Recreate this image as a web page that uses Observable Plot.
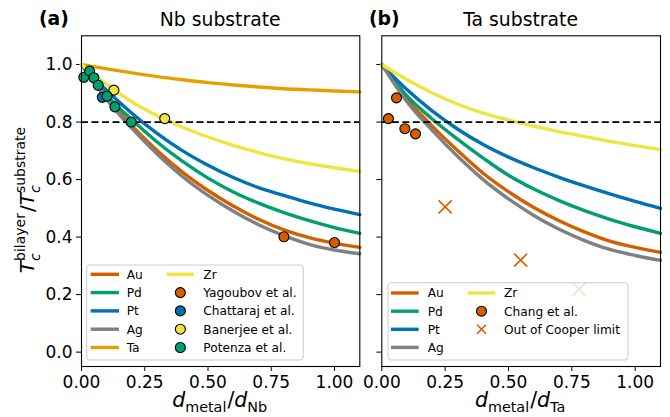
<!DOCTYPE html>
<html><head><meta charset="utf-8">
<script src="https://cdn.jsdelivr.net/npm/d3@7"></script>
<script src="https://cdn.jsdelivr.net/npm/@observablehq/plot@0.6"></script>
<style>
body{margin:0;background:#fff;}
#fig{position:relative;width:670px;height:417px;font-family:"DejaVu Sans",sans-serif;overflow:hidden;background:#fff}
#fig svg{position:absolute;top:0}
</style></head><body><div id="fig"></div>
<script>
// ---- data ----
const xs = [0, 0.1, 0.2, 0.3, 0.4, 0.5, 0.6, 0.7, 0.8, 0.9, 1.0, 1.1];
// Nb substrate curves
const nbAu = [1.0, 0.885, 0.787, 0.700, 0.625, 0.562, 0.508, 0.462, 0.425, 0.398, 0.379, 0.364];
const nbPd = [1.0, 0.893, 0.807, 0.730, 0.663, 0.605, 0.557, 0.518, 0.485, 0.457, 0.433, 0.413];
const nbPt = [1.0, 0.910, 0.830, 0.760, 0.700, 0.650, 0.607, 0.572, 0.545, 0.519, 0.497, 0.478];
const nbAg = [1.0, 0.878, 0.777, 0.688, 0.610, 0.545, 0.490, 0.443, 0.405, 0.375, 0.355, 0.342];
const nbTa = [1.0, 0.985, 0.971, 0.958, 0.947, 0.937, 0.929, 0.922, 0.916, 0.912, 0.908, 0.905];
const nbZr = [1.0, 0.930, 0.870, 0.822, 0.782, 0.748, 0.719, 0.694, 0.673, 0.655, 0.641, 0.629];
// Ta substrate curves
const taAu = [1.0, 0.880, 0.785, 0.700, 0.622, 0.558, 0.503, 0.457, 0.418, 0.386, 0.364, 0.347];
const taPd = [1.0, 0.890, 0.810, 0.740, 0.675, 0.615, 0.567, 0.527, 0.492, 0.462, 0.436, 0.413];
const taPt = [1.0, 0.912, 0.838, 0.775, 0.722, 0.678, 0.641, 0.608, 0.578, 0.550, 0.524, 0.500];
const taAg = [1.0, 0.870, 0.770, 0.680, 0.600, 0.533, 0.475, 0.427, 0.388, 0.357, 0.336, 0.319];
const taZr = [1.0, 0.947, 0.901, 0.862, 0.831, 0.807, 0.786, 0.767, 0.750, 0.733, 0.718, 0.704];
// experimental points
const yagoubovX = [0.80, 1.00], yagoubovY = [0.401, 0.381];
const chattarajX = [0.082], chattarajY = [0.886];
const banerjeeX = [0.128, 0.329], banerjeeY = [0.911, 0.812];
const potenzaX = [0.009, 0.032, 0.049, 0.066, 0.101, 0.132, 0.197];
const potenzaY = [0.956, 0.977, 0.954, 0.928, 0.890, 0.853, 0.800];
const changX = [0.026, 0.058, 0.091, 0.133], changY = [0.812, 0.884, 0.777, 0.759];
const cooperX = [0.25, 0.548, 0.779], cooperY = [0.505, 0.320, 0.219];
const xTicks = [0, 0.25, 0.5, 0.75, 1.0];
const yTicks = [0, 0.2, 0.4, 0.6, 0.8, 1.0];
const threshold = 0.8;

const C = {Au:"#D55E00", Pd:"#009E73", Pt:"#0072B2", Ag:"#808080", Ta:"#E69F00", Zr:"#F0E442"};

const rows = arr => xs.map((x, i) => ({x, y: arr[i]}));
const pts = (X, Y) => X.map((x, i) => ({x, y: Y[i]}));
const line = (arr, c) => Plot.line(rows(arr), {x:"x", y:"y", stroke:c, strokeWidth:3.4, curve:"monotone-x"});
const dot = (X, Y, c) => Plot.dot(pts(X, Y), {x:"x", y:"y", r:5, fill:c, stroke:"black", strokeWidth:1.1});

const common = {
  height: 417, marginTop: 35.3, marginBottom: 51,
  x: {domain: [0, 1.1]}, y: {domain: [-0.05, 1.1]},
  style: {fontFamily: "DejaVu Sans", fontSize: "17px", background: "transparent", overflow: "visible", color: "black"}
};

const plotA = Plot.plot({
  ...common, width: 365, marginLeft: 81, marginRight: 5.7,
  marks: [
    Plot.axisX({ticks: xTicks, tickFormat: d3.format(".2f"), tickSize: 5, tickPadding: 4, label: null}),
    Plot.axisY({ticks: yTicks, tickFormat: d3.format(".1f"), tickSize: 5, tickPadding: 4, label: null}),
    line(nbAu, C.Au), line(nbPd, C.Pd), line(nbPt, C.Pt), line(nbAg, C.Ag), line(nbTa, C.Ta), line(nbZr, C.Zr),
    Plot.ruleY([threshold], {stroke: "black", strokeWidth: 1.8, strokeDasharray: "7,3.5"}),
    dot(yagoubovX, yagoubovY, C.Au), dot(chattarajX, chattarajY, C.Pt),
    dot(banerjeeX, banerjeeY, C.Zr), dot(potenzaX, potenzaY, C.Pd),
    Plot.frame({stroke: "black", strokeWidth: 1.1})
  ]
});
const plotB = Plot.plot({
  ...common, width: 305, marginLeft: 16.3, marginRight: 10,
  marks: [
    Plot.axisX({ticks: xTicks, tickFormat: d3.format(".2f"), tickSize: 5, tickPadding: 4, label: null}),
    Plot.axisY({ticks: yTicks, tickFormat: () => "", tickSize: 5, tickPadding: 4, label: null}),
    line(taAu, C.Au), line(taPd, C.Pd), line(taPt, C.Pt), line(taAg, C.Ag), line(taZr, C.Zr),
    Plot.ruleY([threshold], {stroke: "black", strokeWidth: 1.8, strokeDasharray: "7,3.5"}),
    dot(changX, changY, C.Au),
    Plot.dot(pts(cooperX, cooperY), {x:"x", y:"y", symbol:"times", r:6, stroke:C.Au, strokeWidth:1.6}),
    Plot.frame({stroke: "black", strokeWidth: 1.1})
  ]
});
const fig = document.getElementById("fig");
plotA.style.left = "0px"; plotB.style.left = "365px";
fig.appendChild(plotA); fig.appendChild(plotB);

// ---- overlay: titles, rich labels, legends ----
const ov = d3.select(fig).append("svg").attr("width", 670).attr("height", 417)
  .style("left", "0px").style("overflow", "visible")
  .attr("font-family", "DejaVu Sans").attr("fill", "black");

function rich(pieces, fs, x, y, rotate) {
  const g = ov.append("g");
  const inner = g.append("g");
  let cx = 0, prevStart = 0;
  for (const p of pieces) {
    const start = p.same ? prevStart : cx;
    const t = inner.append("text").attr("x", start).attr("y", (p.shift || 0) * fs)
      .attr("font-size", fs * (p.scale || 1)).attr("font-style", p.italic ? "italic" : "normal").text(p.t);
    const w = t.node().getComputedTextLength();
    cx = Math.max(cx, start + w + (p.pad || 0) * fs);
    prevStart = start;
  }
  inner.attr("transform", `translate(${-cx / 2},0)`);
  g.attr("transform", `translate(${x},${y})` + (rotate ? ` rotate(${rotate})` : ""));
}
const sub = t => ({t, scale: 0.7, shift: 0.22, pad: 0.05});
rich([{t:"d", italic:true}, sub("metal"), {t:"/"}, {t:"d", italic:true}, sub("Nb")], 20.5, 220.2, 407);
rich([{t:"d", italic:true}, sub("metal"), {t:"/"}, {t:"d", italic:true}, sub("Ta")], 20.5, 520.6, 407);
rich([{t:"T", italic:true}, {t:"c", italic:true, scale:0.7, shift:0.3}, {t:"bilayer", scale:0.7, shift:-0.45, same:true, pad:0.05},
      {t:"/"}, {t:"T", italic:true}, {t:"c", italic:true, scale:0.7, shift:0.3}, {t:"substrate", scale:0.7, shift:-0.45, same:true}],
     20, 34, 200, -90);

ov.append("text").attr("x", 220.2).attr("y", 26).attr("text-anchor", "middle").attr("font-size", 18.8).text("Nb substrate");
ov.append("text").attr("x", 520.6).attr("y", 26).attr("text-anchor", "middle").attr("font-size", 18.8).text("Ta substrate");
ov.append("text").attr("x", 39).attr("y", 25).attr("font-size", 18.8).attr("font-weight", "bold").text("(a)");
ov.append("text").attr("x", 369).attr("y", 25).attr("font-size", 18.8).attr("font-weight", "bold").text("(b)");

function legend(box, items) {
  ov.append("rect").attr("x", box.x).attr("y", box.y).attr("width", box.w).attr("height", box.h)
    .attr("rx", 3).attr("fill", "white").attr("fill-opacity", 0.8).attr("stroke", "#cccccc").attr("stroke-width", 1);
  for (const it of items) {
    if (it.type === "line") {
      ov.append("line").attr("x1", it.x1).attr("x2", it.x2).attr("y1", it.y).attr("y2", it.y)
        .attr("stroke", it.color).attr("stroke-width", 3.4);
    } else if (it.type === "dot") {
      ov.append("circle").attr("cx", (it.x1 + it.x2) / 2).attr("cy", it.y).attr("r", 5)
        .attr("fill", it.color).attr("stroke", "black").attr("stroke-width", 1.1);
    } else {
      const m = (it.x1 + it.x2) / 2, s = 4.5;
      ov.append("path").attr("d", `M${m - s},${it.y - s}L${m + s},${it.y + s}M${m - s},${it.y + s}L${m + s},${it.y - s}`)
        .attr("stroke", it.color).attr("stroke-width", 1.6).attr("fill", "none");
    }
    ov.append("text").attr("x", it.tx).attr("y", it.y).attr("dy", "0.36em").attr("font-size", 12.2).text(it.label);
  }
}
const legA = [
  ["line", C.Au, "Au"], ["line", C.Pd, "Pd"], ["line", C.Pt, "Pt"], ["line", C.Ag, "Ag"], ["line", C.Ta, "Ta"],
  ["line", C.Zr, "Zr"], ["dot", C.Au, "Yagoubov et al."], ["dot", C.Pt, "Chattaraj et al."], ["dot", C.Zr, "Banerjee et al."], ["dot", C.Pd, "Potenza et al."]
];
const rowsA = [274.3, 292.6, 310.9, 329.2, 347.5];
legend({x: 86.7, y: 265, w: 216.6, h: 95}, legA.map((d, i) => {
  const col = i < 5 ? 0 : 1;
  return {type: d[0], color: d[1], label: d[2], y: rowsA[i % 5],
    x1: col ? 166.7 : 90.7, x2: col ? 194 : 119, tx: col ? 203.3 : 126.7};
}));
const legB = [
  ["line", C.Au, "Au"], ["line", C.Pd, "Pd"], ["line", C.Pt, "Pt"], ["line", C.Ag, "Ag"],
  ["line", C.Zr, "Zr"], ["dot", C.Au, "Chang et al."], ["x", C.Au, "Out of Cooper limit"]
];
const rowsB = [293, 311.2, 329.3, 347.4];
legend({x: 388, y: 282.7, w: 240, h: 77.3}, legB.map((d, i) => {
  const col = i < 4 ? 0 : 1;
  return {type: d[0], color: d[1], label: d[2], y: rowsB[i % 4],
    x1: col ? 467.7 : 391, x2: col ? 495.3 : 418.7, tx: col ? 504 : 427.7};
}));
</script></body></html>
